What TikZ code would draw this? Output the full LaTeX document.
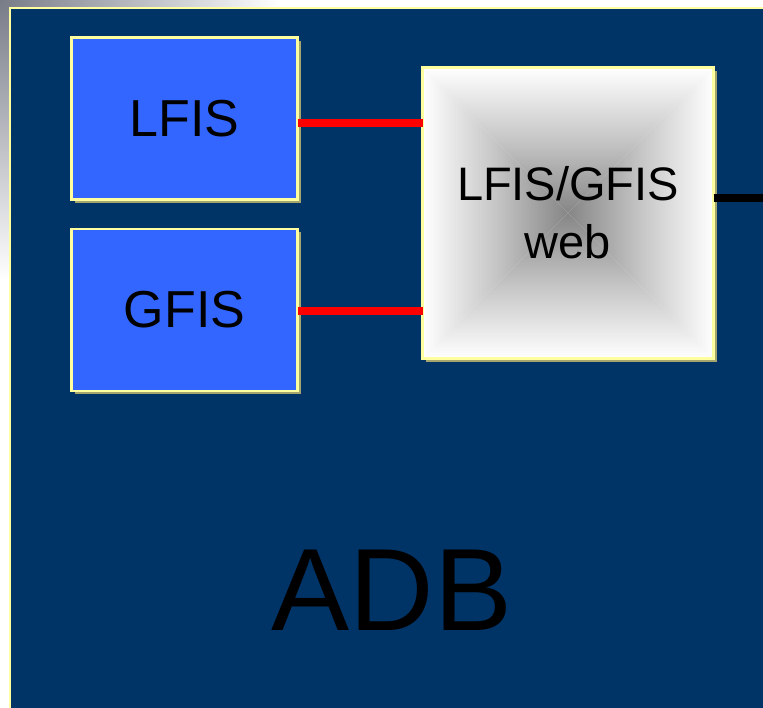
\documentclass[tikz,border=0pt]{standalone}
\usepackage{fontspec}
\setmainfont{Liberation Sans}
\usetikzlibrary{shadows}
\definecolor{adbblue}{RGB}{0,51,102}
\definecolor{boxblue}{RGB}{51,102,255}
\definecolor{bordery}{RGB}{255,255,160}
\definecolor{shadowc}{RGB}{165,165,110}
\definecolor{bggray}{RGB}{120,124,135}
\tikzset{
  box/.style={draw=bordery, line width=2.5pt, outer sep=0pt, inner sep=0pt,
    drop shadow={shadow xshift=3pt, shadow yshift=-3pt, fill=shadowc, opacity=1}},
  bluebox/.style={box, fill=boxblue, minimum width=226pt, minimum height=162pt,
    font=\fontsize{52}{60}\selectfont},
  webbox/.style={box, fill=white, minimum width=291pt, minimum height=291pt,
    align=center, font=\fontsize{47}{58}\selectfont,
    path picture={
      \coordinate (ppc) at (path picture bounding box.center);
      \shade[top color=white, bottom color=gray!95, middle color=white!55!gray] (path picture bounding box.north west) -- (path picture bounding box.north east) -- (ppc) -- cycle;
      \shade[top color=gray!95, bottom color=white, middle color=white!55!gray] (path picture bounding box.south west) -- (path picture bounding box.south east) -- (ppc) -- cycle;
      \shade[left color=white, right color=gray!95, middle color=white!55!gray] (path picture bounding box.north west) -- (path picture bounding box.south west) -- (ppc) -- cycle;
      \shade[left color=gray!95, right color=white, middle color=white!55!gray] (path picture bounding box.north east) -- (path picture bounding box.south east) -- (ppc) -- cycle;
    }},
  redline/.style={draw=red, line width=8pt},
  blackline/.style={draw=black, line width=8pt},
}
\begin{document}
\begin{tikzpicture}[x=1pt, y=-1pt]
\useasboundingbox (0,0) rectangle (763,707);
\fill[white] (0,0) rectangle (763,707);
\begin{scope}
\clip (0,0) rectangle (763,707);
\shade[inner color=bggray, outer color=white] (0,0) circle (280);
\end{scope}
\node[draw=bordery, line width=2.5pt, fill=adbblue, outer sep=0pt, inner sep=0pt,
      minimum width=770pt, minimum height=720pt, anchor=north west] (adb) at (10,8) {};
\node[font=\fontsize{117}{130}\selectfont] (adbt) at (392,590) {ADB};
\node[bluebox] (lfis) at (184.5,118.5) {LFIS};
\node[bluebox] (gfis) at (184.5,310) {GFIS};
\node[webbox] (web) at (568,213) {LFIS/GFIS\\web};
\coordinate (outr) at (770,198);
\draw[redline] ([yshift=-4.5pt]lfis.east) -- ([yshift=-4.5pt]lfis.east -| web.west);
\draw[redline] ([yshift=-1pt]gfis.east) -- ([yshift=-1pt]gfis.east -| web.west);
\draw[blackline] (web.east |- outr) -- (outr);
\end{tikzpicture}
\end{document}
